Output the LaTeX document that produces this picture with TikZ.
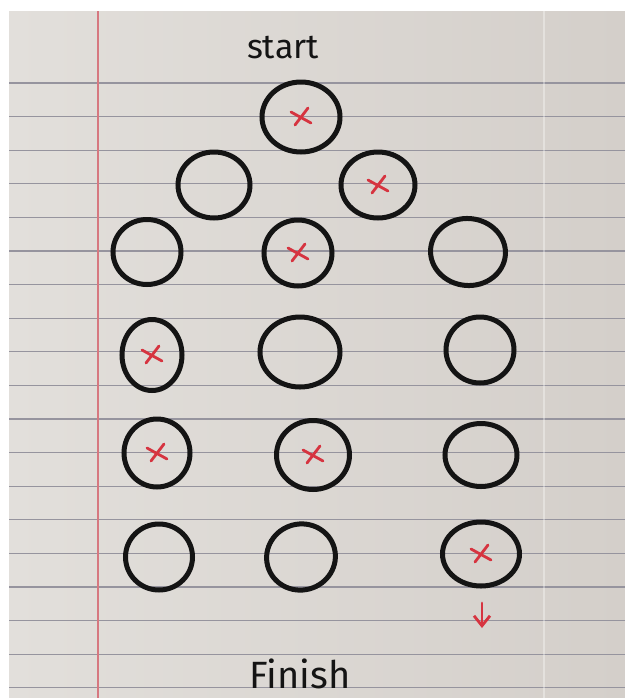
\documentclass[tikz,border=0pt]{standalone}
\usepackage{fontspec}
\setmainfont{Fira Sans}
\usetikzlibrary{shapes.geometric,arrows.meta,calc}
\definecolor{paperL}{RGB}{226,223,219}
\definecolor{paperR}{RGB}{212,207,202}
\definecolor{ruled}{RGB}{150,148,158}
\definecolor{margin}{RGB}{214,120,128}
\definecolor{pen}{RGB}{20,20,20}
\definecolor{redpen}{RGB}{214,52,64}
\tikzset{
  ring/.style 2 args={ellipse, draw=pen, line width=2.5pt, inner sep=0pt,
    minimum width=#1*0.5pt, minimum height=#2*0.5pt},
  cross/.style={draw=redpen, line width=1.4pt, line cap=round},
  hand/.style={text=pen, inner sep=0pt}
}
\newcommand{\redx}[1]{\draw[cross] ($(#1)+(-10,-5)$) -- ($(#1)+(10,6)$); \draw[cross] ($(#1)+(-6,8)$) -- ($(#1)+(7,-9)$);}
\begin{document}
\begin{tikzpicture}[x=0.5pt,y=-0.5pt]
\useasboundingbox (0,0) rectangle (625,698);
\fill[white] (0,0) rectangle (625,698);
\shade[left color=paperL, right color=paperR] (9,11) rectangle (625,698);
% ruled lines
\foreach \k in {0,...,18} {
  \draw[ruled, line width=0.65pt] (9,{83+33.6*\k}) -- (625,{83+33.6*\k});
}
% margin
\draw[margin, line width=0.7pt] (98,11) -- (98,698);
\draw[white, opacity=0.35, line width=1pt] (544,11) -- (544,698);
% texts
\node[hand, font=\fontsize{17}{17}\selectfont] (start) at (283,48) {start};
\node[hand, font=\fontsize{19}{19}\selectfont] (finish) at (300,674) {Finish};
% circles
\node[ring={78}{70}] (r1c2) at (301,117) {};
\node[ring={72}{66}] (r2c1) at (214,185) {};
\node[ring={74}{66}] (r2c3) at (378,185) {};
\node[ring={68}{65}] (r3c1) at (147,252) {};
\node[ring={68}{66}] (r3c2) at (298,253) {};
\node[ring={75}{67}, rotate=-5] (r3c3) at (468,252) {};
\node[ring={60}{71}] (r4c1) at (152,355) {};
\node[ring={80}{70}] (r4c2) at (300,352) {};
\node[ring={68}{66}] (r4c3) at (480,350) {};
\node[ring={66}{68}] (r5c1) at (157,453) {};
\node[ring={73}{69}] (r5c2) at (313,455) {};
\node[ring={72}{63}] (r5c3) at (481,455) {};
\node[ring={67}{66}] (r6c1) at (159,557) {};
\node[ring={69}{66}, rotate=15] (r6c2) at (301,557) {};
\node[ring={77}{64}] (r6c3) at (481,554) {};
% red crosses
\redx{r1c2}
\redx{r2c3}
\redx{r3c2}
\redx{r4c1}
\redx{r5c1}
\redx{r5c2}
\redx{r6c3}
% arrow
\coordinate (a1) at (482,603);
\coordinate (a2) at (482,628);
\draw[redpen, line width=1.4pt, line cap=round, -{Straight Barb[length=5pt,width=8pt]}] (a1) -- (a2);
\end{tikzpicture}
\end{document}
